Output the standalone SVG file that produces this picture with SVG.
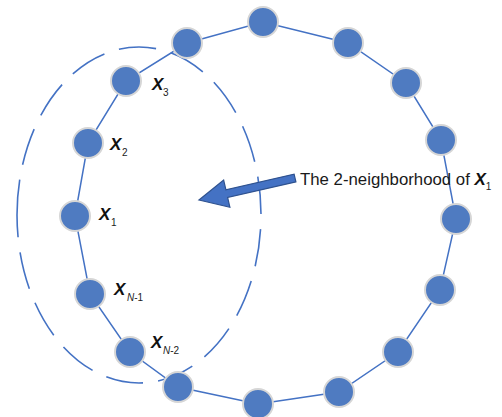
<svg xmlns="http://www.w3.org/2000/svg" width="502" height="417" viewBox="0 0 502 417">
<style>
.node{fill:#4f7bc1;stroke:#d6d6d6;stroke-width:2}
.edge{fill:none;stroke:#4472c4;stroke-width:1.5}
.hood{fill:none;stroke:#4472c4;stroke-width:1.6;stroke-dasharray:37 15;stroke-dashoffset:2}
.x{font-family:"Liberation Sans",Arial,sans-serif;font-weight:bold;font-style:italic;font-size:17px;fill:#111}
.sub{font-family:"Liberation Sans",Arial,sans-serif;font-size:10px;fill:#222}
.lbl{font-family:"Liberation Sans",Arial,sans-serif;font-size:16.8px;fill:#1a1a1a}
</style>
<rect width="502" height="417" fill="#fff"/>
<g id="connectors">
<polygon class="edge" points="187,43 263,22 348,43 406,83 441,140 456,219 440,290 398,352 339,392 258,404 178,387 130,352 90,294 75,216 88,143 126,81"/>
</g>
<g id="neighborhood">
<path class="hood" pathLength="904" d="M17,215 A122,168 0 1,1 261,215 A122,168 0 1,1 17,215"/>
</g>
<g id="n1"><circle class="node" cx="187" cy="43" r="15"/></g>
<g id="n2"><circle class="node" cx="263" cy="22" r="15"/></g>
<g id="n3"><circle class="node" cx="348" cy="43" r="15"/></g>
<g id="n4"><circle class="node" cx="406" cy="83" r="15"/></g>
<g id="n5"><circle class="node" cx="441" cy="140" r="15"/></g>
<g id="n6"><circle class="node" cx="456" cy="219" r="15"/></g>
<g id="n7"><circle class="node" cx="440" cy="290" r="15"/></g>
<g id="n8"><circle class="node" cx="398" cy="352" r="15"/></g>
<g id="n9"><circle class="node" cx="339" cy="392" r="15"/></g>
<g id="n10"><circle class="node" cx="258" cy="404" r="15"/></g>
<g id="n11"><circle class="node" cx="178" cy="387" r="15"/></g>
<g id="xN2"><circle class="node" cx="130" cy="352" r="15"/>
<text class="x" x="151" y="348">X</text><text class="sub" x="163" y="354"><tspan font-style="italic">N</tspan>-2</text></g>
<g id="xN1"><circle class="node" cx="90" cy="294" r="15"/>
<text class="x" x="114" y="295">X</text><text class="sub" x="127" y="301"><tspan font-style="italic">N</tspan>-1</text></g>
<g id="x1"><circle class="node" cx="75" cy="216" r="15"/>
<text class="x" x="99" y="220">X</text><text class="sub" x="111" y="226">1</text></g>
<g id="x2"><circle class="node" cx="88" cy="143" r="15"/>
<text class="x" x="110" y="150">X</text><text class="sub" x="122" y="156">2</text></g>
<g id="x3"><circle class="node" cx="126" cy="81" r="15"/>
<text class="x" x="152" y="90">X</text><text class="sub" x="163" y="96">3</text></g>
<g id="arrow">
<polygon transform="translate(295,178) rotate(167.1)" points="0,-4 70,-4 70,-14 98.5,0 70,14 70,4 0,4" fill="#4472c4" stroke="#2f528f" stroke-width="1.2"/>
</g>
<g id="label">
<text class="lbl" x="300" y="185">The 2-neighborhood of <tspan class="x">X</tspan><tspan class="sub" dy="5">1</tspan></text>
</g>
</svg>
